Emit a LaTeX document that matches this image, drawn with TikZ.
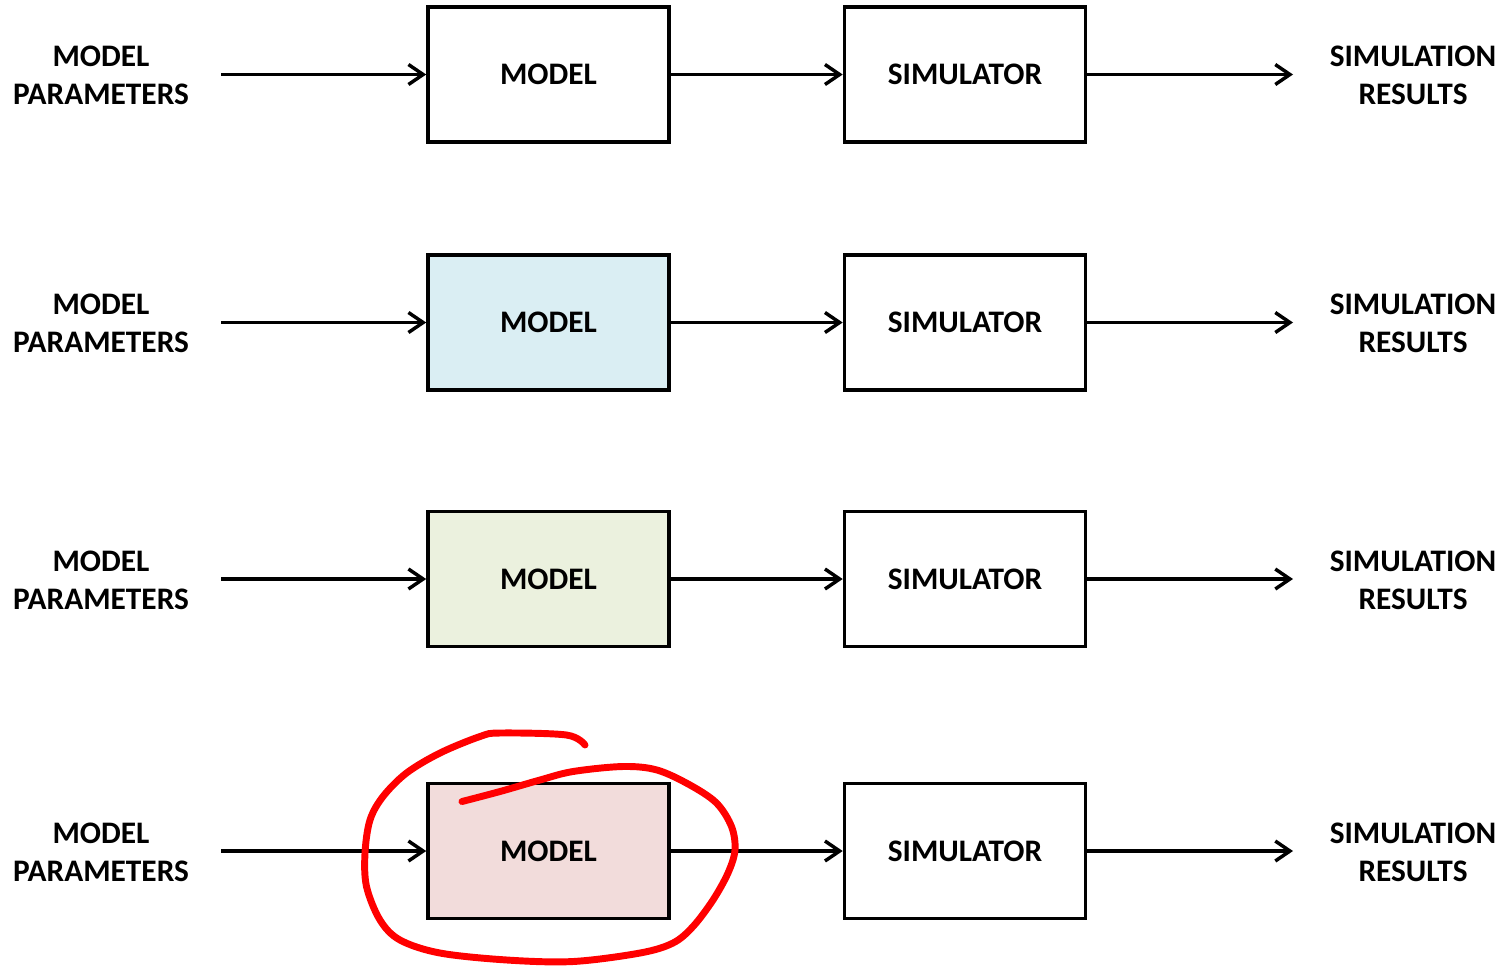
\documentclass[tikz,border=0pt]{standalone}
\usepackage{fontspec}
\setmainfont{Carlito}
\usetikzlibrary{arrows.meta}
\definecolor{fillblue}{HTML}{DAEEF3}
\definecolor{fillgreen}{HTML}{EBF1DE}
\definecolor{fillpink}{HTML}{F2DCDB}
\tikzset{
  blockbox/.style={draw=black, line width=2.7pt, minimum width=180.75pt,
    minimum height=101.25pt, inner sep=0pt, font=\fontsize{23.5}{28.3}\selectfont\bfseries},
  sidelabel/.style={align=center, inner sep=0pt, font=\fontsize{23.5}{28.3}\selectfont\bfseries},
  flow/.style={draw=black, line width=2.6pt,
    -{Straight Barb[length=11pt,width=15pt,line width=2.6pt]}},
  scribble/.style={draw=red, line width=5.2pt, line cap=round, line join=round}
}
\begin{document}
\begin{tikzpicture}[x=0.75pt,y=-0.75pt]
\useasboundingbox (0,0) rectangle (1508,965);
% four rows: parameters -> model -> simulator -> results
\foreach \r/\yy/\fc in {1/74.5/white, 2/322.5/fillblue, 3/579/fillgreen, 4/851/fillpink}{
  \node[sidelabel] (par\r) at (101,\yy+1) {MODEL\\PARAMETERS};
  \coordinate (in\r) at (221,\yy);
  \node[blockbox, fill=\fc] (mod\r) at (548.5,\yy) {MODEL};
  \node[blockbox, fill=white] (sim\r) at (965,\yy) {SIMULATOR};
  \coordinate (out\r) at (1293,\yy);
  \node[sidelabel] (res\r) at (1413,\yy+1) {SIMULATION\\RESULTS};
  \draw[flow] (in\r) -- (mod\r.west);
  \draw[flow] (mod\r.east) -- (sim\r.west);
  \draw[flow] (sim\r.east) -- (out\r);
}
% hand-drawn loop around the last model block
\draw[scribble] plot[smooth, tension=0.55] coordinates {
  (462,801.5) (500,791.5) (540,780) (573,771.5) (623,766.5) (657,770)
  (690,785) (716.5,803) (731.5,826.5) (735,850) (728,873) (713,900)
  (693,926.5) (673,943) (640,953) (573,961.5) (507,960) (440,953)
  (400,940) (380,920) (366.5,886.5) (365,853) (370,820) (383,796.5)
  (406.5,773) (440,753) (480,736.5) (500,733) (566.5,735) (585,745)};
\end{tikzpicture}
\end{document}
